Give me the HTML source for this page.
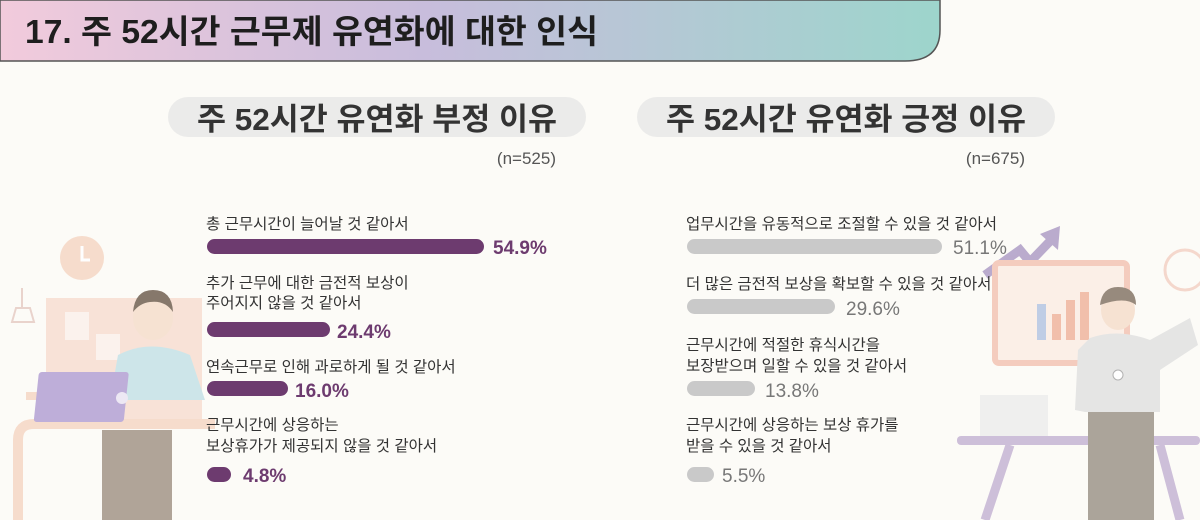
<!DOCTYPE html>
<html><head><meta charset="utf-8"><style>
html,body{margin:0;padding:0;background:#fcfbf7;}
svg{display:block}
text{font-family:"Liberation Sans","Noto Sans CJK KR",sans-serif;}
</style></head><body>
<svg width="1200" height="520" viewBox="0 0 1200 520" xmlns="http://www.w3.org/2000/svg">
<defs>
<linearGradient id="hg" x1="0" x2="1" y1="0" y2="0">
<stop offset="0" stop-color="#f2cbdc"/><stop offset="0.45" stop-color="#c8bddc"/><stop offset="1" stop-color="#9dd5cc"/>
</linearGradient>
</defs>
<rect width="1200" height="520" fill="#fcfbf7"/>
<path d="M0,0 H940 V30 Q940,61 905,61 H0 Z" fill="url(#hg)" stroke="#555" stroke-width="1.5"/>
<text x="25" y="43" font-size="33" font-weight="bold" fill="#1e1e1e" textLength="573" lengthAdjust="spacingAndGlyphs">17. 주 52시간 근무제 유연화에 대한 인식</text>

<g opacity="0.9">
<circle cx="82" cy="258" r="22" fill="#f6d9c8"/>
<path d="M82,246 V260 H90" stroke="#fff" stroke-width="3" fill="none"/>
<line x1="22" y1="288" x2="22" y2="308" stroke="#e8cfc8" stroke-width="2"/>
<path d="M12,322 L16,308 H30 L34,322 Z" fill="none" stroke="#e8cfc8" stroke-width="2"/>
<rect x="46" y="298" width="156" height="130" fill="#f8e0d4"/>
<rect x="65" y="312" width="24" height="28" fill="#fbf2ec"/>
<rect x="96" y="334" width="24" height="26" fill="#fbf2ec"/>
<rect x="26" y="392" width="60" height="8" fill="#f6d9c8"/>
<rect x="36" y="402" width="44" height="22" fill="#f8e0d4"/>
<path d="M18,520 V440 Q18,424 34,424 H215" stroke="#f6d9c8" stroke-width="10" fill="none"/>
<ellipse cx="153" cy="318" rx="20" ry="22" fill="#f6e0cf"/>
<path d="M133,312 Q135,290 153,290 Q172,290 173,312 Q165,300 150,302 Q140,303 133,312 Z" fill="#7a6a5c"/>
<path d="M118,355 Q150,338 190,355 L205,400 H110 Z" fill="#c9e3e8"/>
<rect x="78" y="372" width="90" height="50" rx="3" fill="#b8a6d6" transform="skewX(-6)"/>
<circle cx="122" cy="398" r="6" fill="#ece6f4"/>
<rect x="102" y="430" width="70" height="90" fill="#a89b8e"/>
</g>

<g opacity="0.9">
<path d="M985,275 L1020,250 L1030,262 L1055,236" stroke="#b3a3c9" stroke-width="9" fill="none"/>
<path d="M1060,226 L1040,234 L1058,250 Z" fill="#b3a3c9"/>
<circle cx="1185" cy="270" r="20" fill="none" stroke="#f4d4c8" stroke-width="3"/>
<rect x="995" y="263" width="132" height="100" rx="4" fill="#fbeee6" stroke="#f4c8b8" stroke-width="6"/>
<rect x="1037" y="304" width="9" height="36" fill="#b9c9e4"/>
<rect x="1052" y="314" width="9" height="26" fill="#f0b9a3"/>
<rect x="1066" y="300" width="9" height="40" fill="#f0b9a3"/>
<rect x="1080" y="292" width="9" height="48" fill="#f0b9a3"/>
<rect x="980" y="395" width="68" height="42" fill="#eeeeee"/>
<rect x="957" y="436" width="243" height="9" rx="4" fill="#c9b9d6"/>
<path d="M1010,445 L985,520 M1160,445 L1180,520" stroke="#c9b9d6" stroke-width="9"/>
<ellipse cx="1118" cy="310" rx="17" ry="20" fill="#f6e0cf"/>
<path d="M1100,305 Q1102,287 1118,287 Q1136,287 1136,305 Q1125,296 1100,305 Z" fill="#8d7e70"/>
<path d="M1090,338 Q1118,328 1150,340 L1190,318 L1198,345 L1160,370 V412 H1085 L1075,410 L1078,350 Z" fill="#e3e3e3"/>
<circle cx="1118" cy="375" r="5" fill="#fff" stroke="#aaa"/>
<rect x="1088" y="412" width="66" height="108" fill="#a39b91"/>
</g>

<rect x="168" y="97" width="418" height="40" rx="20" fill="#ebebea"/>
<text x="377" y="130" font-size="31" font-weight="bold" fill="#333" text-anchor="middle" textLength="360" lengthAdjust="spacingAndGlyphs">주 52시간 유연화 부정 이유</text>
<rect x="637" y="97" width="418" height="40" rx="20" fill="#ebebea"/>
<text x="846" y="130" font-size="31" font-weight="bold" fill="#333" text-anchor="middle" textLength="360" lengthAdjust="spacingAndGlyphs">주 52시간 유연화 긍정 이유</text>
<text x="556" y="164" font-size="17" fill="#555" text-anchor="end">(n=525)</text>
<text x="1025" y="164" font-size="17" fill="#555" text-anchor="end">(n=675)</text>

<g font-size="15.5" fill="#333">
<text x="206" y="229">총 근무시간이 늘어날 것 같아서</text>
<text x="206" y="288">추가 근무에 대한 금전적 보상이</text>
<text x="206" y="308">주어지지 않을 것 같아서</text>
<text x="206" y="372">연속근무로 인해 과로하게 될 것 같아서</text>
<text x="206" y="430">근무시간에 상응하는</text>
<text x="206" y="451">보상휴가가 제공되지 않을 것 같아서</text>
</g>
<g fill="#6d3b6f">
<rect x="207" y="239" width="277" height="15" rx="7.5"/>
<rect x="207" y="322" width="123" height="15" rx="7.5"/>
<rect x="207" y="381" width="81" height="15" rx="7.5"/>
<rect x="207" y="467" width="24" height="15" rx="7.5"/>
</g>
<g font-size="19" fill="#6d3b6f" font-weight="bold">
<text x="493" y="254">54.9%</text>
<text x="337" y="338">24.4%</text>
<text x="295" y="397">16.0%</text>
<text x="243" y="482">4.8%</text>
</g>

<g font-size="15.5" fill="#333">
<text x="686" y="229">업무시간을 유동적으로  조절할 수 있을 것 같아서</text>
<text x="686" y="289">더 많은 금전적 보상을 확보할 수 있을 것 같아서</text>
<text x="686" y="350">근무시간에 적절한 휴식시간을</text>
<text x="686" y="371">보장받으며 일할 수 있을 것 같아서</text>
<text x="686" y="430">근무시간에 상응하는 보상 휴가를</text>
<text x="686" y="451">받을 수 있을 것 같아서</text>
</g>
<g fill="#c9c9c9">
<rect x="687" y="239" width="255" height="15" rx="7.5"/>
<rect x="687" y="299" width="148" height="15" rx="7.5"/>
<rect x="687" y="381" width="68" height="15" rx="7.5"/>
<rect x="687" y="467" width="27" height="15" rx="7.5"/>
</g>
<g font-size="19" fill="#777">
<text x="953" y="254">51.1%</text>
<text x="846" y="315">29.6%</text>
<text x="765" y="397">13.8%</text>
<text x="722" y="482">5.5%</text>
</g>
</svg>
</body></html>
